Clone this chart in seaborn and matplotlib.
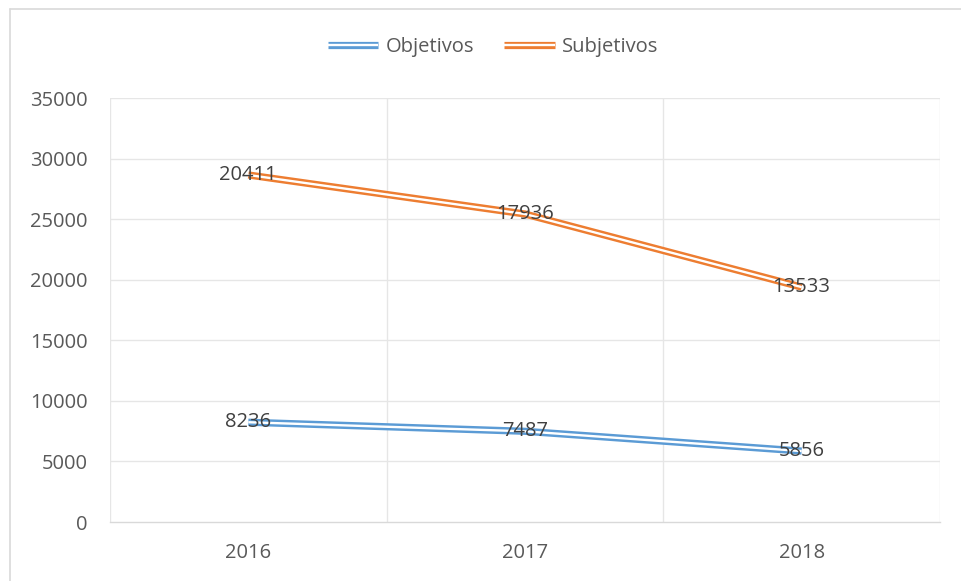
import matplotlib
matplotlib.use("Agg")
import matplotlib.pyplot as plt
import matplotlib.patheffects as pe
from matplotlib.lines import Line2D
import seaborn as sns
import pandas as pd
import numpy as np

years = ["2016", "2017", "2018"]
objetivos = [8236, 7487, 5856]
subjetivos = [20411, 17936, 13533]
series_names = ["Objetivos", "Subjetivos"]
colors = {"Objetivos": "#5B9BD5", "Subjetivos": "#ED7D31"}
yticks = [0, 5000, 10000, 15000, 20000, 25000, 30000, 35000]

# Excel stacked line: Subjetivos drawn on top of Objetivos
stack_sub = [o + s for o, s in zip(objetivos, subjetivos)]

df = pd.DataFrame({
    "year": years * 2,
    "pos": list(range(len(years))) * 2,
    "plot": objetivos + stack_sub,
    "label": objetivos + subjetivos,
    "serie": ["Objetivos"] * 3 + ["Subjetivos"] * 3,
})

sns.set_style("white")
plt.rcParams["font.family"] = ["Open Sans", "DejaVu Sans"]

fig = plt.figure(figsize=(9.61, 5.81), dpi=100)
W, H = 961, 581
ax = fig.add_axes([110 / W, (H - 522) / H, (940 - 110) / W, (522 - 98) / H])

sns.lineplot(data=df, x="pos", y="plot", hue="serie", hue_order=series_names,
             palette=colors, ax=ax, legend=False, linewidth=1.8, sort=False,
             estimator=None)

for line, name in zip(ax.get_lines(), series_names):
    c = colors[name]
    line.set_color("white")
    line.set_linewidth(1.7)
    line.set_path_effects([pe.Stroke(linewidth=5.2, foreground=c), pe.Normal()])
    line.set_solid_capstyle("butt")
    line.set_zorder(3)

ax.set_xlim(-0.5, len(years) - 0.5)
ax.set_ylim(0, 35000)
ax.set_yticks(yticks)
ax.set_yticklabels([str(v) for v in yticks])
ax.set_xticks(range(len(years)))
ax.set_xticklabels(years)

ax.grid(False)
for y in yticks[1:]:
    ax.axhline(y, color="#E6E6E6", lw=1.0, zorder=1)
for x in np.arange(-0.5, len(years), 1.0):
    ax.axvline(x, color="#E6E6E6", lw=1.0, zorder=1)

for s in ["top", "right", "left"]:
    ax.spines[s].set_visible(False)
ax.spines["bottom"].set_color("#D9D9D9")
ax.spines["bottom"].set_linewidth(1.0)
ax.spines["bottom"].set_zorder(2)

ax.tick_params(axis="both", which="both", length=0, labelsize=14.5, colors="#595959")
ax.tick_params(axis="y", pad=16)
ax.tick_params(axis="x", pad=15)
ax.set_xlabel("")
ax.set_ylabel("")

for _, r in df.iterrows():
    ax.text(r["pos"], r["plot"], str(r["label"]), ha="center", va="center",
            fontsize=14.5, color="#404040", zorder=4)

handles = []
for name in series_names:
    h = Line2D([0], [0], color="white", lw=1.7, solid_capstyle="butt")
    h.set_path_effects([pe.Stroke(linewidth=5.2, foreground=colors[name]), pe.Normal()])
    handles.append(h)
leg = fig.legend(handles, series_names, loc="center", bbox_to_anchor=(493 / W, 1 - 47 / H),
                 ncol=2, frameon=False, fontsize=14.5, handlelength=2.5,
                 handletextpad=0.35, columnspacing=1.5)
for t in leg.get_texts():
    t.set_color("#595959")
for h in leg.legend_handles:
    h.set_solid_capstyle("butt")

# outer chart border (top and left visible)
fig.add_artist(Line2D([9.5 / W, 1.0], [1 - 8.5 / H, 1 - 8.5 / H], color="#D9D9D9", lw=1.2,
                      transform=fig.transFigure))
fig.add_artist(Line2D([9.5 / W, 9.5 / W], [0, 1 - 8.5 / H], color="#D9D9D9", lw=1.2,
                      transform=fig.transFigure))

fig.savefig("out.png", dpi=100)
